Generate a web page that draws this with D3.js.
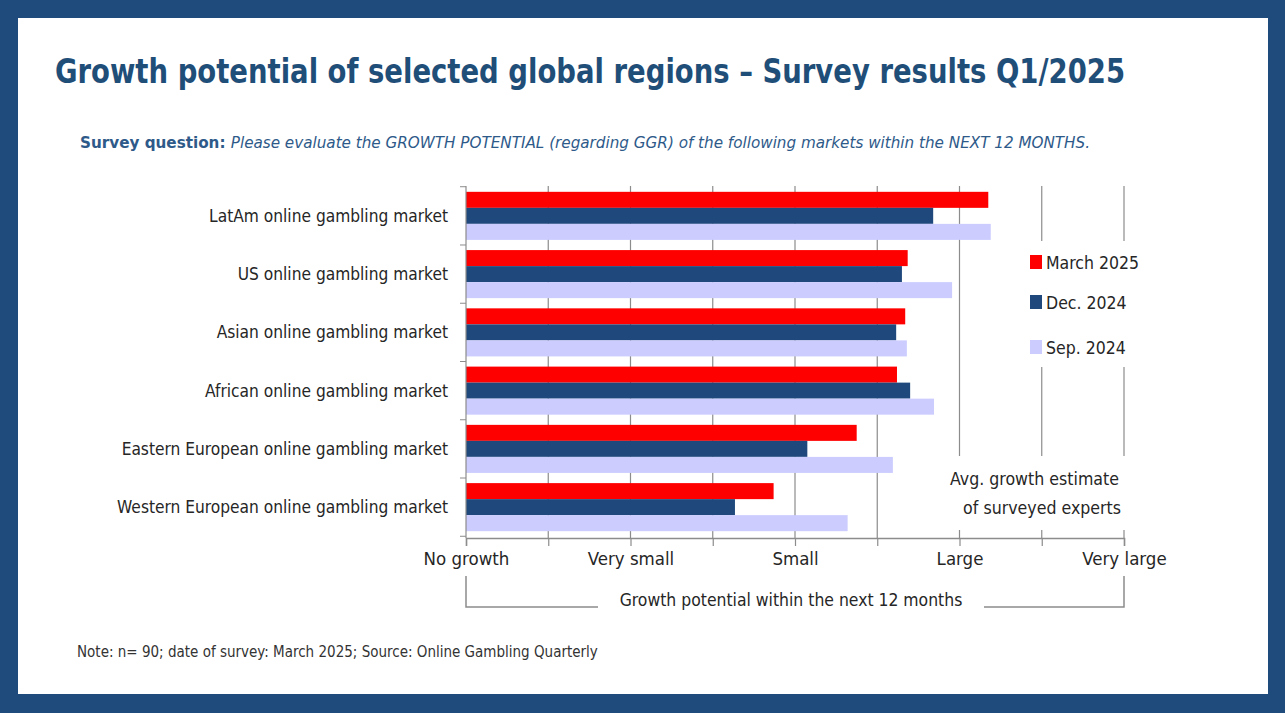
<!DOCTYPE html>
<html>
<head>
<meta charset="utf-8">
<title>Growth potential of selected global regions</title>
<script src="https://d3js.org/d3.v7.min.js"></script>
<style>
  body { margin: 0; background: #1e4a7c; }
  text { font-family: "Liberation Sans Narrow", "DejaVu Sans Condensed", sans-serif; }
</style>
</head>
<body>
<div id="chart"></div>
<script>

// markets, top to bottom
const markets = [
  "LatAm online gambling market",
  "US online gambling market",
  "Asian online gambling market",
  "African online gambling market",
  "Eastern European online gambling market",
  "Western European online gambling market"
];

const seriesNames = ["March 2025", "Dec. 2024", "Sep. 2024"];

// average growth estimate, 0 = no growth ... 8 = very large
const march2025 = [6.35, 5.37, 5.34, 5.24, 4.75, 3.74];
const dec2024   = [5.68, 5.30, 5.23, 5.40, 4.15, 3.27];
const sep2024   = [6.38, 5.91, 5.36, 5.69, 5.19, 4.64];

const tickValues = [0, 1, 2, 3, 4, 5, 6, 7, 8];
const tickLabels = ["No growth", "", "Very small", "", "Small", "", "Large", "", "Very large"];

const colors = ["#ff0000", "#1f497d", "#ccccff"];

const W = 1285, H = 713;

let svg = d3.select("#chart")
  .append("svg")
  .attr("width", W)
  .attr("height", H)
  .style("display", "block");

// frame
svg.append("rect").attr("width", W).attr("height", H).attr("fill", "#1e4a7c");
svg.append("rect")
  .attr("x", 18).attr("y", 18)
  .attr("width", 1250).attr("height", 676)
  .attr("fill", "#fff");

// title
svg.append("text")
  .attr("x", 55).attr("y", 83)
  .attr("font-size", 34)
  .attr("font-weight", "bold")
  .attr("fill", "#1f4e79")
  .attr("textLength", 1070)
  .attr("lengthAdjust", "spacingAndGlyphs")
  .text("Growth potential of selected global regions \u2013 Survey results Q1/2025");

let q = svg.append("text")
  .attr("x", 80).attr("y", 148)
  .attr("font-size", 16)
  .attr("fill", "#2e5a8a")
  .attr("textLength", 1010)
  .attr("lengthAdjust", "spacingAndGlyphs");
q.append("tspan").attr("font-weight", "bold").text("Survey question: ");
q.append("tspan").attr("font-style", "italic")
  .text("Please evaluate the GROWTH POTENTIAL (regarding GGR) of the following markets within the NEXT 12 MONTHS.");

// scales
let x = d3.scaleLinear().domain([0, 8]).range([466, 1124]);

let y = d3.scaleBand()
  .domain(markets)
  .range([186, 537])
  .paddingInner(0.175)
  .paddingOuter(0.1);

let y1 = d3.scaleBand()
  .domain(seriesNames)
  .range([0, y.bandwidth()]);

const axisY = 538;

// vertical gridlines
svg.append("g")
  .selectAll("line")
  .data(tickValues.slice(1))
  .enter()
  .append("line")
  .attr("x1", d => x(d)).attr("x2", d => x(d))
  .attr("y1", 186).attr("y2", axisY)
  .attr("stroke", "#8c8c8c")
  .attr("stroke-width", 1.2);

// bars
let rows = markets.map((m, i) => ({
  market: m,
  values: [march2025[i], dec2024[i], sep2024[i]]
}));

svg.append("g")
  .selectAll("g")
  .data(rows)
  .enter()
  .append("g")
  .attr("transform", d => "translate(0," + y(d.market) + ")")
  .selectAll("rect")
  .data(d => d.values.map((v, k) => ({ name: seriesNames[k], v: v, k: k })))
  .enter()
  .append("rect")
  .attr("x", x(0))
  .attr("y", d => y1(d.name))
  .attr("width", d => x(d.v) - x(0))
  .attr("height", y1.bandwidth())
  .attr("fill", d => colors[d.k]);

// white areas behind legend and note (they cut the gridlines)
svg.append("rect").attr("x", 1020).attr("y", 241).attr("width", 125).attr("height", 126).attr("fill", "#fff");
svg.append("rect").attr("x", 940).attr("y", 456).attr("width", 190).attr("height", 74).attr("fill", "#fff");

// left axis with category labels
let yAxis = d3.axisLeft(y).tickSize(0).tickPadding(18);
let gy = svg.append("g")
  .attr("transform", "translate(" + x(0) + ",0)")
  .call(yAxis);
gy.select(".domain").attr("stroke", "#8c8c8c").attr("stroke-width", 1.2).attr("d", "M0,186V" + axisY);
gy.selectAll("text")
  .attr("font-size", 17.2)
  .attr("fill", "#262626")
  .attr("dy", (d) => (y1(seriesNames[1]) + y1.bandwidth() / 2 - y.bandwidth() / 2 + 6) + "px");

// small ticks between categories
let bounds = markets.map(m => y(m) - y.step() * y.paddingInner() / 2);
bounds.push(y(markets[markets.length - 1]) + y.bandwidth() + y.step() * y.paddingInner() / 2);
svg.append("g")
  .selectAll("line")
  .data(bounds)
  .enter()
  .append("line")
  .attr("x1", x(0) - 6).attr("x2", x(0))
  .attr("y1", d => d).attr("y2", d => d)
  .attr("stroke", "#8c8c8c");

// bottom axis
let xAxis = d3.axisBottom(x)
  .tickValues(tickValues)
  .tickSize(8)
  .tickPadding(6)
  .tickFormat((d, i) => tickLabels[i]);

let gx = svg.append("g")
  .attr("transform", "translate(0," + axisY + ")")
  .call(xAxis);
gx.select(".domain").attr("stroke", "#8c8c8c").attr("stroke-width", 1.5);
gx.selectAll(".tick line").attr("stroke", "#8c8c8c").attr("stroke-width", 1.2);
gx.selectAll(".tick text").attr("font-size", 18.5).attr("fill", "#262626");

// bracket with axis title
svg.append("path")
  .attr("d", "M" + x(0) + ",576V607H598M984,607H" + x(8) + "V576")
  .attr("fill", "none")
  .attr("stroke", "#8c8c8c")
  .attr("stroke-width", 1.5);
svg.append("text")
  .attr("x", 791).attr("y", 606)
  .attr("text-anchor", "middle")
  .attr("font-size", 17.4)
  .attr("fill", "#262626")
  .text("Growth potential within the next 12 months");

// legend
let legendY = [262, 302, 347];
let lg = svg.append("g")
  .selectAll("g")
  .data(seriesNames)
  .enter()
  .append("g")
  .attr("transform", (d, i) => "translate(1030," + legendY[i] + ")");
lg.append("rect")
  .attr("x", 0).attr("y", -7)
  .attr("width", 12).attr("height", 14)
  .attr("fill", (d, i) => colors[i]);
lg.append("text")
  .attr("x", 16).attr("y", 7)
  .attr("font-size", 17.5)
  .attr("fill", "#262626")
  .text(d => d);

// note inside plot
svg.append("text")
  .attr("x", 1119).attr("y", 485)
  .attr("text-anchor", "end")
  .attr("font-size", 17.6)
  .attr("fill", "#262626")
  .text("Avg. growth estimate");
svg.append("text")
  .attr("x", 1121).attr("y", 514)
  .attr("text-anchor", "end")
  .attr("font-size", 17.6)
  .attr("fill", "#262626")
  .text("of surveyed experts");

// source note
svg.append("text")
  .attr("x", 77).attr("y", 657)
  .attr("font-size", 15)
  .attr("fill", "#333")
  .text("Note: n= 90; date of survey: March 2025; Source: Online Gambling Quarterly");

</script>
</body>
</html>
